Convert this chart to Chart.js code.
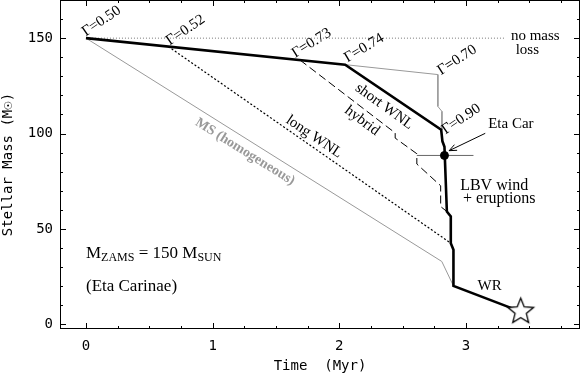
<!DOCTYPE html>
<html>
<head>
<meta charset="utf-8">
<script src="https://cdn.jsdelivr.net/npm/chart.js@4"></script>
<style>
  html, body { margin: 0; padding: 0; background: #fff; }
  canvas { display: block; }
</style>
</head>
<body>
<canvas id="massChart" width="581" height="375"></canvas>
<script>
// time in Myr, mass in Msun
const noLossTime = [0, 3.31]
const noLossMass = [150, 150]

const shortWnlTime = [0, 2.046, 2.804, 2.814, 2.830, 2.849, 2.880, 2.880, 2.901, 2.901, 3.432]
const shortWnlMass = [150, 136.1, 102.0, 95.9, 93.1, 59.1, 56.5, 42.5, 39.0, 20.1, 6.6]

const gamma70Time = [2.046, 2.778, 2.778, 2.810, 2.810]
const gamma70Mass = [136.1, 130.9, 114.2, 111.6, 102.0]

const hybridTime = [1.690, 2.441, 2.441, 2.612, 2.612, 2.800, 2.800, 2.849]
const hybridMass = [138.5, 100.3, 97.6, 89.4, 84.0, 72.6, 61.7, 59.1]

const longWnlTime = [0.650, 2.880]
const longWnlMass = [145.6, 42.5]

const msTime = [0, 2.809, 2.901]
const msMass = [150, 32.9, 20.1]

const etaCarTime = [2.830]
const etaCarMass = [88.5]
const etaCarErrTime = [2.612, 3.059]

const finalTime = [3.432]
const finalMass = [6.6]

const xTickValues = [0, 1, 2, 3]
const yTickValues = [0, 50, 100, 150]

var serif = "'Liberation Serif', 'Times New Roman', serif"
var mono = "'DejaVu Sans Mono', monospace"

// text labels, placed in data coords
var notes = [
    {text: 'Γ=0.50', x: 0.122, y: 158.9, rot: -34}
  , {text: 'Γ=0.52', x: 0.786, y: 154.2, rot: -34}
  , {text: 'Γ=0.73', x: 1.781, y: 147.4, rot: -32}
  , {text: 'Γ=0.74', x: 2.196, y: 144.8, rot: -31}
  , {text: 'Γ=0.70', x: 2.930, y: 138.5, rot: -33}
  , {text: 'Γ=0.90', x: 2.962, y: 107.5, rot: -34}
  , {text: 'short WNL', x: 2.354, y: 114.2, rot: 36}
  , {text: 'hybrid', x: 2.180, y: 106.7, rot: 37}
  , {text: 'long WNL', x: 1.801, y: 98.3, rot: 34}
  , {text: 'MS (homogeneous)', x: 1.256, y: 90.4, rot: 32, color: '#999', bold: true, size: 14}
  , {text: 'no mass', x: 3.547, y: 148.9, align: 'center', base: true}
  , {text: 'loss', x: 3.484, y: 141.8, align: 'center', base: true}
  , {text: 'Eta Car', x: 3.175, y: 102.9, align: 'left', base: true}
  , {text: 'LBV wind', x: 2.954, y: 70.5, align: 'left', base: true, size: 16}
  , {text: ' + eruptions', x: 2.945, y: 63.5, align: 'left', base: true, size: 16}
  , {text: 'WR', x: 3.091, y: 18.0, align: 'left', base: true}
  , {text: '(Eta Carinae)', x: 0, y: 17.5, align: 'left', base: true, size: 17}
]

function pts(xs, ys) {
  return xs.map((x, i) => ({x: x, y: ys[i]}))
}

function line(data, color, width, dash) {
  return {
      data: data
    , showLine: true
    , borderColor: color
    , borderWidth: width
    , borderDash: dash || []
    , pointRadius: 0
    , fill: false
    , tension: 0
  }
}

function makeStar(r) {
  var c = document.createElement('canvas')
  var s = Math.ceil(r * 2 + 4)
  c.width = c.height = s
  var g = c.getContext('2d')
  g.translate(s / 2, s / 2)
  g.beginPath()
  for (var i = 0; i < 10; i++) {
    var rad = i % 2 ? r * 0.44 : r
    var ang = -Math.PI / 2 + i * Math.PI / 5
    g.lineTo(rad * Math.cos(ang), rad * Math.sin(ang))
  }
  g.closePath()
  g.fillStyle = '#fff'
  g.fill()
  g.lineWidth = 1.3
  g.strokeStyle = '#000'
  g.stroke()
  return c
}

// the layout should not reserve room for half tick labels
function noPad(s) {
  s.paddingTop = 0
  s.paddingBottom = 0
  s.paddingLeft = 0
  s.paddingRight = 0
}

// inward ticks on all four sides, the box, text and the arrow
var decor = {
  id: 'decor',
  afterDatasetsDraw(chart) {
    var ctx = chart.ctx
    var a = chart.chartArea
    var xs = chart.scales.x, ys = chart.scales.y
    ctx.save()
    ctx.strokeStyle = '#000'
    ctx.lineWidth = 1
    ctx.strokeRect(a.left + 0.5, a.top + 0.5, a.right - a.left - 1, a.bottom - a.top - 1)
    ctx.beginPath()
    for (var i = 0; i <= 15; i++) {
      var v = i * 0.25
      var len = (i % 4 === 0) ? 6 : 3
      var px = Math.round(xs.getPixelForValue(v)) + 0.5
      ctx.moveTo(px, a.bottom); ctx.lineTo(px, a.bottom - len)
      ctx.moveTo(px, a.top); ctx.lineTo(px, a.top + len)
    }
    for (var j = 0; j <= 16; j++) {
      var m = j * 10
      var l2 = (m % 50 === 0) ? 6 : 3
      var py = Math.round(ys.getPixelForValue(m)) + 0.5
      ctx.moveTo(a.left, py); ctx.lineTo(a.left + l2, py)
      ctx.moveTo(a.right, py); ctx.lineTo(a.right - l2, py)
    }
    ctx.stroke()

    notes.forEach(function(n) {
      ctx.save()
      ctx.translate(xs.getPixelForValue(n.x), ys.getPixelForValue(n.y))
      ctx.rotate((n.rot || 0) * Math.PI / 180)
      ctx.font = (n.bold ? 'bold ' : '') + (n.size || 15) + 'px ' + serif
      ctx.fillStyle = n.color || '#000'
      ctx.textAlign = n.align || 'center'
      ctx.textBaseline = n.base ? 'alphabetic' : 'middle'
      ctx.fillText(n.text, 0, 0)
      ctx.restore()
    })

    // M_ZAMS = 150 M_SUN
    var x0 = xs.getPixelForValue(0), y0 = ys.getPixelForValue(34.6)
    var parts = [['M', 17, 0], ['ZAMS', 12, 3], [' = 150 M', 17, 0], ['SUN', 12, 3]]
    ctx.textAlign = 'left'
    ctx.textBaseline = 'alphabetic'
    ctx.fillStyle = '#000'
    parts.forEach(function(p) {
      ctx.font = p[1] + 'px ' + serif
      ctx.fillText(p[0], x0, y0 + p[2])
      x0 += ctx.measureText(p[0]).width
    })

    // arrow to Eta Car
    var tx = xs.getPixelForValue(3.152), ty = ys.getPixelForValue(100.1)
    var hx = xs.getPixelForValue(2.867), hy = ys.getPixelForValue(91.0)
    var ang = Math.atan2(hy - ty, hx - tx)
    ctx.beginPath()
    ctx.moveTo(tx, ty); ctx.lineTo(hx, hy)
    ctx.moveTo(hx - 8 * Math.cos(ang - 0.4), hy - 8 * Math.sin(ang - 0.4))
    ctx.lineTo(hx, hy)
    ctx.lineTo(hx - 8 * Math.cos(ang + 0.4), hy - 8 * Math.sin(ang + 0.4))
    ctx.stroke()
    ctx.restore()
  }
}

var ctx = document.getElementById('massChart').getContext('2d')

new Chart(ctx, {
  type: 'scatter'
, data: {
    datasets: [
      {data: pts(finalTime, finalMass), pointStyle: makeStar(13.5), pointRadius: 14}
    , {data: pts(etaCarTime, etaCarMass), pointRadius: 4, backgroundColor: '#000', borderColor: '#000'}
    , line(pts(shortWnlTime, shortWnlMass), '#000', 2.6)
    , line(pts(etaCarErrTime, [etaCarMass[0], etaCarMass[0]]), '#666', 1)
    , line(pts(hybridTime, hybridMass), '#000', 1, [8, 4])
    , line(pts(longWnlTime, longWnlMass), '#000', 1.2, [2, 2])
    , line(pts(gamma70Time, gamma70Mass), '#999', 1)
    , line(pts(msTime, msMass), '#999', 1)
    , line(pts(noLossTime, noLossMass), '#555', 0.8, [1, 2])
    ]
  }
, options: {
    responsive: false
  , animation: false
  , devicePixelRatio: 1
  , layout: {autoPadding: false, padding: {top: 0, right: 1, bottom: 0, left: 0}}
  , plugins: {legend: {display: false}, tooltip: {enabled: false}}
  , scales: {
      x: {
        type: 'linear'
      , min: -0.205
      , max: 3.9
      , grid: {display: false, drawTicks: false}
      , border: {display: false}
      , afterBuildTicks: s => { s.ticks = xTickValues.map(v => ({value: v})) }
      , afterFit: s => { s.height = 46; noPad(s) }
      , ticks: {color: '#000', font: {family: mono, size: 14}, padding: 9, maxRotation: 0}
      , title: {display: true, text: 'Time  (Myr)', color: '#000', font: {family: mono, size: 14}, padding: 0}
      }
    , y: {
        type: 'linear'
      , min: -2.5
      , max: 170
      , grid: {display: false, drawTicks: false}
      , border: {display: false}
      , afterBuildTicks: s => { s.ticks = yTickValues.map(v => ({value: v})) }
      , afterFit: s => { s.width = 60; noPad(s) }
      , ticks: {color: '#000', font: {family: mono, size: 14}, padding: 7}
      , title: {display: true, text: 'Stellar Mass (M☉)', color: '#000', font: {family: mono, size: 14}, padding: 0}
      }
    }
  }
, plugins: [decor]
})
</script>
</body>
</html>
